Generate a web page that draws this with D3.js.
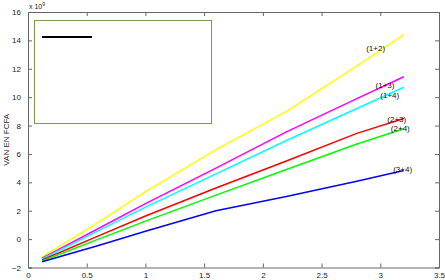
<!DOCTYPE html>
<html>
<head>
<meta charset="utf-8">
<script src="https://cdn.jsdelivr.net/npm/d3@7"></script>
<style>
  body { margin: 0; background: #fff; }
  text { font-family: "Liberation Sans", Arial, sans-serif; }
</style>
</head>
<body>
<div id="chart"></div>
<script>
// valores (VAN en 1e9 FCFA)
const xs = [0.12, 0.6, 1.0, 1.6, 2.2, 2.8, 3.2];
const serie12 = [-1.25, 1.2, 3.35, 6.3, 9.0, 12.2, 14.4];
const serie13 = [-1.35, 0.75, 2.5, 5.0, 7.55, 9.9, 11.44];
const serie14 = [-1.4, 0.6, 2.25, 4.6, 6.95, 9.2, 10.7];
const serie23 = [-1.47, 0.23, 1.63, 3.6, 5.5, 7.45, 8.5];
const serie24 = [-1.54, 0.0, 1.27, 3.1, 4.9, 6.7, 7.77];
const serie34 = [-1.6, -0.45, 0.55, 2.0, 3.0, 4.07, 4.84];

const nombres = ["(1+2)", "(1+3)", "(1+4)", "(2+3)", "(2+4)", "(3+4)"];
const colores = ["#ffff00", "#ff00ff", "#00ffff", "#ff0000", "#00ff00", "#0000ff"];
// posicion de las etiquetas (coordenadas de datos, como text(x,y) en matlab)
const etiquetaX = [2.88, 2.96, 3.0, 3.06, 3.09, 3.11];
const etiquetaY = [13.45, 10.85, 10.12, 8.42, 7.79, 4.96];

const xTicks = [0, 0.5, 1, 1.5, 2, 2.5, 3, 3.5];
const yTicks = [-2, 0, 2, 4, 6, 8, 10, 12, 14, 16];

const series = [serie12, serie13, serie14, serie23, serie24, serie34];

const W = 445, H = 280;
const m = { top: 12, right: 6, bottom: 12.5, left: 28 };
const w = W - m.left - m.right;
const h = H - m.top - m.bottom;

const svg = d3.select("#chart").append("svg").attr("width", W).attr("height", H);
const g = svg.append("g").attr("transform", `translate(${m.left},${m.top})`);

const x = d3.scaleLinear().domain([0, 3.5]).range([0, w]);
const y = d3.scaleLinear().domain([-2, 16]).range([h, 0]);

const colEje = "#666";

// ejes con ticks hacia dentro (estilo matlab)
const ejeAbajo = g.append("g").attr("transform", `translate(0,${h})`)
  .call(d3.axisBottom(x).tickValues(xTicks).tickSize(-4).tickPadding(6).tickFormat(d3.format("")));
const ejeArriba = g.append("g")
  .call(d3.axisTop(x).tickValues(xTicks).tickSize(-4).tickFormat(""));
const ejeIzq = g.append("g")
  .call(d3.axisLeft(y).tickValues(yTicks).tickSize(-4).tickPadding(7));
const ejeDer = g.append("g").attr("transform", `translate(${w},0)`)
  .call(d3.axisRight(y).tickValues(yTicks).tickSize(-4).tickFormat(""));

[ejeAbajo, ejeArriba, ejeIzq, ejeDer].forEach(e => {
  e.select(".domain").attr("stroke", colEje);
  e.selectAll(".tick line").attr("stroke", colEje);
  e.selectAll("text").attr("fill", "#222").style("font-size", "8px");
});
ejeAbajo.selectAll("text").attr("dy", "0.5em");

// lineas
const linea = d3.line().x((d, i) => x(xs[i])).y(d => y(d));
g.selectAll(".serie").data(series).enter().append("path")
  .attr("class", "serie")
  .attr("d", linea)
  .attr("fill", "none")
  .attr("stroke", (d, i) => colores[i])
  .attr("stroke-width", 1.5);

// etiquetas
g.selectAll(".etq").data(nombres).enter().append("text")
  .attr("class", "etq")
  .attr("x", (d, i) => x(etiquetaX[i]))
  .attr("y", (d, i) => y(etiquetaY[i]))
  .attr("dy", "0.35em")
  .style("font-size", "8px")
  .attr("fill", "#111")
  .text(d => d);

// leyenda vacia
svg.append("rect")
  .attr("x", 34.5).attr("y", 20.5).attr("width", 177).attr("height", 103)
  .attr("fill", "#fff").attr("stroke", "#7a9a4c").attr("stroke-width", 1);
svg.append("line")
  .attr("x1", 42).attr("x2", 92).attr("y1", 37).attr("y2", 37)
  .attr("stroke", "#000").attr("stroke-width", 2);

// factor de escala
const fac = svg.append("text").attr("x", 29).attr("y", 9).style("font-size", "7px").attr("fill", "#222");
fac.append("tspan").text("x 10");
fac.append("tspan").attr("dy", -3).style("font-size", "5px").text("9");

// etiqueta eje y
svg.append("text")
  .attr("transform", `translate(9,${m.top + h / 2}) rotate(-90)`)
  .attr("text-anchor", "middle")
  .style("font-size", "8px")
  .attr("fill", "#222")
  .text("VAN EN FCFA");
</script>
</body>
</html>
